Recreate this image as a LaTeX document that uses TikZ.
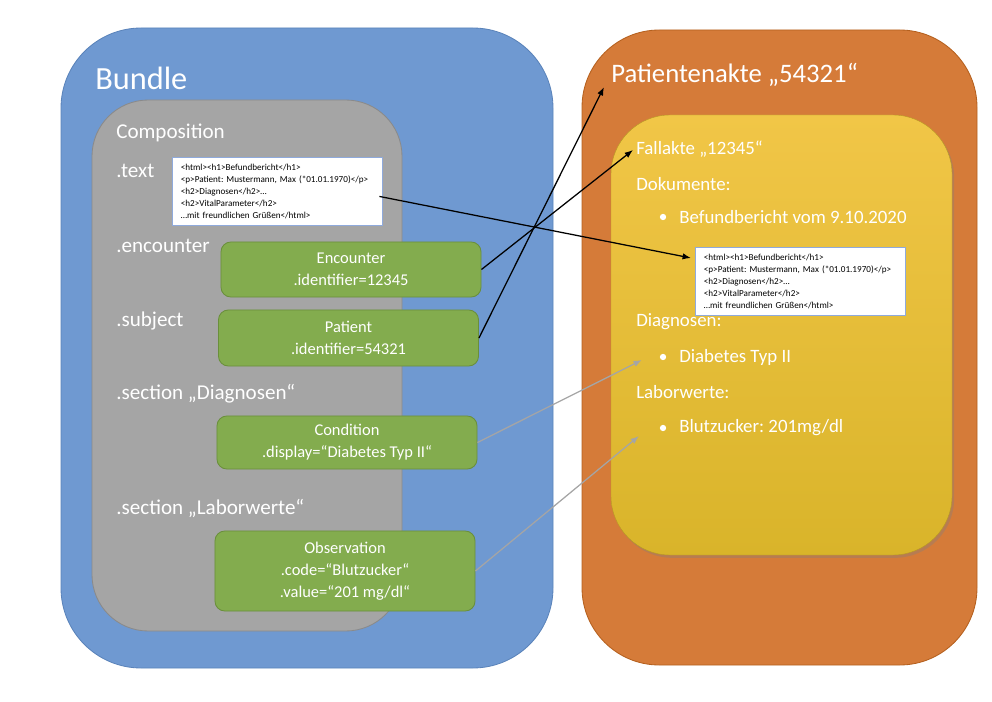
\documentclass[tikz,border=0pt]{standalone}
\usepackage{fontspec}
\setmainfont{Carlito}
\usepackage{xcolor}
\usepackage{tikz}
\usetikzlibrary{arrows.meta,positioning,calc,shadows}
\frenchspacing
\definecolor{bundleblue}{HTML}{6F99D1}
\definecolor{bundleedge}{HTML}{5A83BA}
\definecolor{compgray}{HTML}{A5A5A5}
\definecolor{compedge}{HTML}{8A8A8A}
\definecolor{resgreen}{HTML}{83AC4E}
\definecolor{resedge}{HTML}{6A8F3B}
\definecolor{akteorange}{HTML}{D57B39}
\definecolor{akteedge}{HTML}{B5601E}
\definecolor{falltop}{HTML}{F1C647}
\definecolor{fallbot}{HTML}{D9B42A}
\definecolor{htmledge}{HTML}{8FAADC}

\begin{document}
\begin{tikzpicture}[
    x=0.025cm,y=-0.025cm,
    lbl/.style    = {font=\fontsize{15}{18}\selectfont, text=white,
                     anchor=west, inner sep=0pt},
    rlbl/.style   = {font=\fontsize{13.4}{16}\selectfont, text=white,
                     anchor=west, inner sep=0pt},
    titel/.style  = {text=white, anchor=west, inner sep=0pt},
    res/.style    = {draw=resedge, fill=resgreen, rounded corners=7pt,
                     text=white, align=center, line width=0.6pt,
                     font=\fontsize{11.7}{15.6}\selectfont,
                     minimum width=6.5cm},
    html/.style   = {draw=htmledge, fill=white, anchor=north west,
                     align=left, font=\fontsize{6.5}{8.5}\selectfont,
                     inner xsep=6pt, text width=137pt,
                     minimum height=1.7cm, line width=0.6pt},
    bul/.style    = {circle, fill=white, inner sep=0pt, minimum size=4.5pt},
    ref/.style    = {-{Latex[length=6pt,width=4.5pt]}, black, line width=0.9pt},
    map/.style    = {-{Latex[length=6pt,width=4.5pt]}, compgray, line width=0.9pt},
  ]
  \useasboundingbox (0,0) rectangle (992,702);

  % Bundle
  \draw[fill=bundleblue, draw=bundleedge, line width=0.6pt, rounded corners=57pt]
       (61,28) rectangle (553,668);
  \draw[fill=compgray, draw=compedge, line width=0.6pt, rounded corners=40pt]
       (92,100) rectangle (402,631);

  \node[titel, font=\fontsize{23}{28}\selectfont] (bundle) at (95,78) {Bundle};
  \node[lbl] (comp)  at (116,133) {Composition};
  \node[lbl] (ltext) at (116,171) {.text};
  \node[lbl] (lenc)  at (116,246) {.encounter};
  \node[lbl] (lsub)  at (116,321) {.subject};
  \node[lbl] (ldiag) at (116,394) {.section „Diagnosen“};
  \node[lbl] (llab)  at (116,508) {.section „Laborwerte“};

  \node[html] (htmlA) at (172,157)
       {<html><h1>Befundbericht</h1>\\
        <p>Patient: Mustermann, Max (*01.01.1970)</p>\\
        <h2>Diagnosen</h2>…\\
        <h2>VitalParameter</h2>\\
        …mit freundlichen Grüßen</html>};

  \node[res, minimum height=1.375cm] (enc)  at (351,269.5)
       {Encounter\\.identifier=12345};
  \node[res, minimum height=1.4cm]   (pat)  at (348.5,338)
       {Patient\\.identifier=54321};
  \node[res, minimum height=1.325cm] (cond) at (347,442.5)
       {Condition\\.display=“Diabetes Typ II“};
  \node[res, minimum height=2cm]     (obs)  at (345,571)
       {Observation\\.code=“Blutzucker“\\.value=“201 mg/dl“};

  % Patientenakte
  \draw[fill=akteorange, draw=akteedge, line width=0.6pt, rounded corners=55pt]
       (582,30) rectangle (977,665);
  \draw[top color=falltop, bottom color=fallbot, draw=fallbot!85!black,
        line width=0.3pt, rounded corners=42pt,
        drop shadow={opacity=0.35, shadow xshift=1.5pt, shadow yshift=-2pt}]
       (611,115) rectangle (952,555);

  \node[titel, font=\fontsize{19}{23}\selectfont] (akte) at (611,75)
       {Patientenakte „54321“};
  \node[rlbl] (fall)   at (636,149) {Fallakte „12345“};
  \node[rlbl] (doku)   at (636,184) {Dokumente:};
  \node[bul]  (b1)     at (663,217) {};
  \node[rlbl] (befund) at (679,217) {Befundbericht vom 9.10.2020};

  \node[html] (htmlB) at (695,247)
       {<html><h1>Befundbericht</h1>\\
        <p>Patient: Mustermann, Max (*01.01.1970)</p>\\
        <h2>Diagnosen</h2>…\\
        <h2>VitalParameter</h2>\\
        …mit freundlichen Grüßen</html>};

  \node[rlbl] (rdiag)  at (636,322) {Diagnosen:};
  \node[bul]  (b2)     at (663,357) {};
  \node[rlbl] (diab)   at (679,357) {Diabetes Typ II};
  \node[rlbl] (rlab)   at (636,392) {Laborwerte:};
  \node[bul]  (b3)     at (663,428) {};
  \node[rlbl] (bz)     at (679,428) {Blutzucker: 201mg/dl};

  \coordinate (akteend) at ($(akte.west)+(-7,12)$);

  \draw[ref] (enc.east) -- ($(fall.west)+(-3,1)$);
  \draw[ref] (pat.east) -- (akteend);
  \draw[ref] ($(htmlA.east)+(-3,5)$) -- ($(htmlB.north west)+(-4,11)$);

  \draw[map] (cond.east) -- ($(b2)+(-21,3)$);
  \draw[map] (obs.east)  -- ($(b3)+(-24,8)$);

\end{tikzpicture}
\end{document}
